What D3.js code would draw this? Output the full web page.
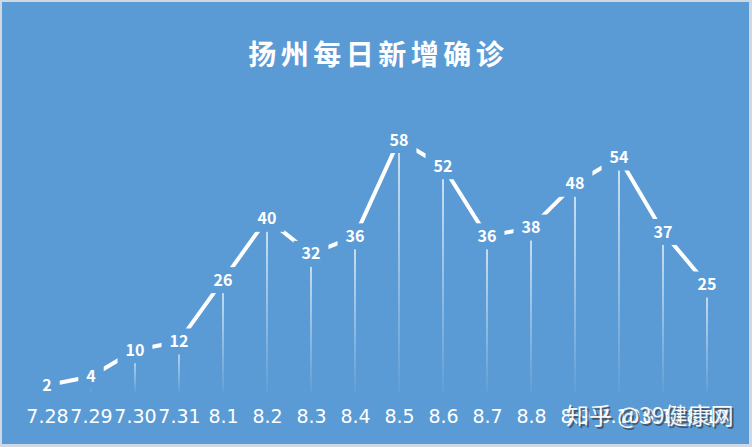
<!DOCTYPE html>
<html><head><meta charset="utf-8">
<script src="https://cdn.jsdelivr.net/npm/d3@7/dist/d3.min.js"></script>
<style>html,body{margin:0;padding:0;background:#d3dce6;}svg{display:block;}</style>
</head><body>
<svg id="c" width="752" height="447"></svg>
<script>
const categories = ["7.28","7.29","7.30","7.31","8.1","8.2","8.3","8.4","8.5","8.6","8.7","8.8","8.9","8.10","8.11","8.12"];
const values = [2,4,10,12,26,40,32,36,58,52,36,38,48,54,37,25];
const title = "扬州每日新增确诊";
const watermark = "知乎 @39健康网";

const W = 752, H = 447;
const svg = d3.select("#c");
const blue = "#5b9bd5";
svg.append("rect").attr("x",0).attr("y",0).attr("width",W).attr("height",H).attr("fill","#d0d9e3");
svg.append("rect").attr("x",2).attr("y",2).attr("width",747).attr("height",442).attr("fill",blue);

const defs = svg.append("defs");
const grad = defs.append("linearGradient").attr("id","drop").attr("x1",0).attr("y1",0).attr("x2",0).attr("y2",1);
grad.append("stop").attr("offset","0%").attr("stop-color","#fff").attr("stop-opacity",0.95);
grad.append("stop").attr("offset","100%").attr("stop-color","#fff").attr("stop-opacity",0.05);

const x = d3.scalePoint().domain(categories).range([47, 707]);
const y = d3.scaleLinear().domain([0, 58]).range([394, 140]);

// title
const tg = svg.append("g");
const chars = Array.from(title);
const cw = 32.5;
tg.selectAll("text").data(chars).join("text")
  .attr("x",(d,i)=>376 + (i - (chars.length-1)/2)*cw).attr("y",65).attr("text-anchor","middle")
  .attr("font-family","'Noto Sans CJK SC'").attr("font-weight","bold").attr("font-size",28)
  .attr("fill","#fff").text(d=>d);

// drop lines
svg.append("g").selectAll("rect").data(values).join("rect")
  .attr("x", (d,i)=>x(categories[i])-0.75).attr("width",1.5)
  .attr("y", d=>y(d)).attr("height", d=>Math.max(0, 392 - y(d)))
  .attr("fill","url(#drop)");

// line
const line = d3.line().x((d,i)=>x(categories[i])).y(d=>y(d));
svg.append("path").datum(values).attr("d",line).attr("fill","none")
  .attr("stroke","#fff").attr("stroke-width",4).attr("stroke-linejoin","round");

// labels with background
const lg = svg.append("g");
values.forEach((v,i)=>{
  const g = lg.append("g").attr("transform",`translate(${x(categories[i])},${y(v)})`);
  const r = g.append("rect").attr("fill",blue);
  const t = g.append("text").attr("text-anchor","middle").attr("dy","0.35em")
    .attr("font-family","'Noto Sans CJK SC'").attr("font-weight","bold").attr("font-size",16)
    .attr("fill","#fff").text(v);
  const b = t.node().getBBox();
  r.attr("x",b.x-8).attr("y",-13).attr("width",b.width+16).attr("height",26);
});

// x axis
const ax = svg.append("g").attr("transform","translate(0,405)")
  .call(d3.axisBottom(x).tickSize(0).tickPadding(0));
ax.select(".domain").remove();
ax.selectAll("text").attr("fill","#fff").attr("font-family","'DejaVu Sans'").attr("font-size",19)
  .attr("dy","0.95em");

// watermark
const wm = svg.append("g").attr("font-family","'Noto Sans CJK SC'").attr("font-size",23);
wm.append("text").attr("x",568).attr("y",426).attr("fill","#3a3a3a").attr("opacity",0.7).text(watermark);
wm.append("text").attr("x",566).attr("y",424).attr("fill","#fff").attr("opacity",0.92).text(watermark);
</script>
</body></html>
